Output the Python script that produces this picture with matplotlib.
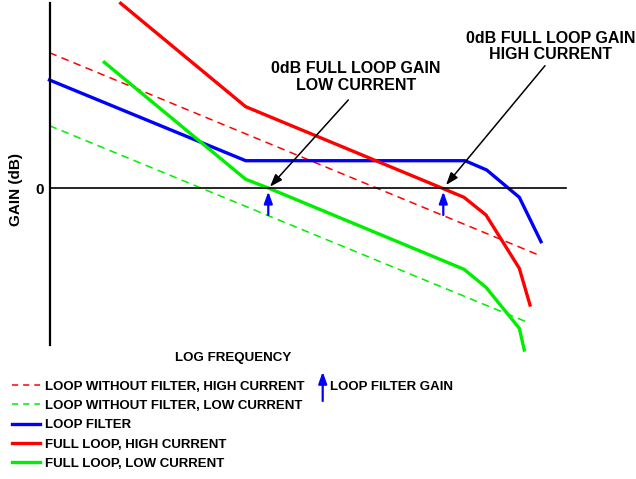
import matplotlib
matplotlib.use('Agg')
import matplotlib.pyplot as plt
from matplotlib.lines import Line2D
from matplotlib.patches import FancyArrowPatch

plt.rcParams['font.family'] = ['Liberation Sans', 'DejaVu Sans']
plt.rcParams['font.weight'] = 'bold'

# log frequency (arbitrary units) vs gain (arbitrary dB)
f_dash_hi = [0, 491.5]
g_dash_hi = [135.3, -68.0]
f_dash_lo = [0, 480.5]
g_dash_lo = [62.3, -135.3]
f_filter = [0, 196.2, 415.5, 437.2, 469.8, 491.5]
g_filter = [108.0, 27.3, 27.3, 18.0, -9.3, -53.7]
f_full_hi = [71.2, 196.2, 392.2, 414.5, 436.5, 469.8, 480.5]
g_full_hi = [184.7, 81.3, 0.0, -9.3, -27.0, -80.3, -117.0]
f_full_lo = [54.8, 196.2, 218.8, 414.5, 436.5, 469.8, 474.8]
g_full_lo = [125.7, 8.7, 0.0, -81.3, -99.3, -140.3, -162.0]

# 0 dB crossings and where the loop filter gain arrows start
cross_f = [218.8, 393.8]
cross_g = [0.0, 0.0]
filter_gain_from = [-27.0, -27.0]

# callouts: text position, arrow tail, arrow tip
callout_text = ['0dB FULL LOOP GAIN\nLOW CURRENT', '0dB FULL LOOP GAIN\nHIGH CURRENT']
callout_xy = [(306.3, 111.0), (501.0, 141.5)]
callout_tail = [(298.8, 88.0), (495.5, 122.3)]
callout_tip = [(220.5, 1.3), (396.5, 3.0)]

W, H = 636, 479
fig = plt.figure(figsize=(W / 100, H / 100), dpi=100)
ax = fig.add_axes([49.5 / W, 1 - 360 / H, 516.2 / W, 360 / H])
ax.set_xlim(0, 516.2)
ax.set_ylim(-172, 188)
ax.patch.set_visible(False)

RED, GREEN, BLUE = '#ff0000', '#00ee00', '#0000ff'
dash = (0, (5, 3.5))
legend_dash = (0, (4, 3.3))

ax.plot(f_dash_hi, g_dash_hi, color=RED, lw=1.1, ls=dash, clip_on=False)
ax.plot(f_dash_lo, g_dash_lo, color=GREEN, lw=1.1, ls=dash, clip_on=False)
ax.plot(f_filter, g_filter, color=BLUE, lw=2.4, clip_on=False)
ax.plot(f_full_hi, g_full_hi, color=RED, lw=2.4, clip_on=False)
ax.plot(f_full_lo, g_full_lo, color=GREEN, lw=2.4, clip_on=False)

blue_head = '-|>,head_length=0.7,head_width=0.25'
for f0, g0, g1 in zip(cross_f, cross_g, filter_gain_from):
    ax.annotate('', xy=(f0, g0 - 3.5), xytext=(f0, g1),
                arrowprops=dict(arrowstyle=blue_head, color=BLUE, lw=1.6,
                                shrinkA=0, shrinkB=0))

# spines: left axis and the 0 dB line
for s in ['top', 'right']:
    ax.spines[s].set_visible(False)
ax.spines['left'].set_bounds(-157, 185)
ax.spines['left'].set_linewidth(1.6)
ax.spines['bottom'].set_position(('data', 0))
ax.spines['bottom'].set_linewidth(1.2)
ax.set_xticks([])
ax.set_yticks([0])
ax.set_yticklabels(['0'], fontsize=11, fontweight='bold')
ax.tick_params(axis='y', length=0, pad=4)

# callouts with black arrows
for txt, xy, tail, tip in zip(callout_text, callout_xy, callout_tail, callout_tip):
    ax.text(xy[0], xy[1], txt, ha='center', va='center', fontsize=11.5,
            fontweight='bold', linespacing=1.12)
    ax.annotate('', xy=tip, xytext=tail,
                arrowprops=dict(arrowstyle='-|>,head_length=0.75,head_width=0.27',
                                color='black', lw=1.1, shrinkA=0, shrinkB=0))

fig.text(16 / W, 1 - 190 / H, 'GAIN (dB)', rotation=90, ha='center', va='center',
         fontsize=11, fontweight='bold')
fig.text(232.7 / W, 1 - 358.5 / H, 'LOG FREQUENCY', ha='center', va='center',
         fontsize=9.6, fontweight='bold')

# legend
handles = [
    Line2D([], [], color=RED, lw=1.1, ls=legend_dash),
    Line2D([], [], color=GREEN, lw=1.1, ls=legend_dash),
    Line2D([], [], color=BLUE, lw=2.4),
    Line2D([], [], color=RED, lw=2.4),
    Line2D([], [], color=GREEN, lw=2.4),
]
labels = ['LOOP WITHOUT FILTER, HIGH CURRENT', 'LOOP WITHOUT FILTER, LOW CURRENT',
          'LOOP FILTER', 'FULL LOOP, HIGH CURRENT', 'FULL LOOP, LOW CURRENT']
fig.legend(handles, labels, loc='upper left', bbox_to_anchor=(11.7 / W, 1 - 380.4 / H),
           frameon=False, handlelength=2.15, handletextpad=0.38,
           labelspacing=0.535, borderpad=0, borderaxespad=0,
           prop={'weight': 'bold', 'size': 9.5})

fig.add_artist(FancyArrowPatch(
    (322.7 / W, 1 - 401 / H), (322.7 / W, 1 - 371.7 / H), transform=fig.transFigure,
    arrowstyle=blue_head, mutation_scale=10, color=BLUE, lw=1.6,
    shrinkA=0, shrinkB=0))
fig.text(330 / W, 1 - 386.7 / H, 'LOOP FILTER GAIN', ha='left', va='center',
         fontsize=9.5, fontweight='bold')

fig.savefig('out.png', dpi=100)
